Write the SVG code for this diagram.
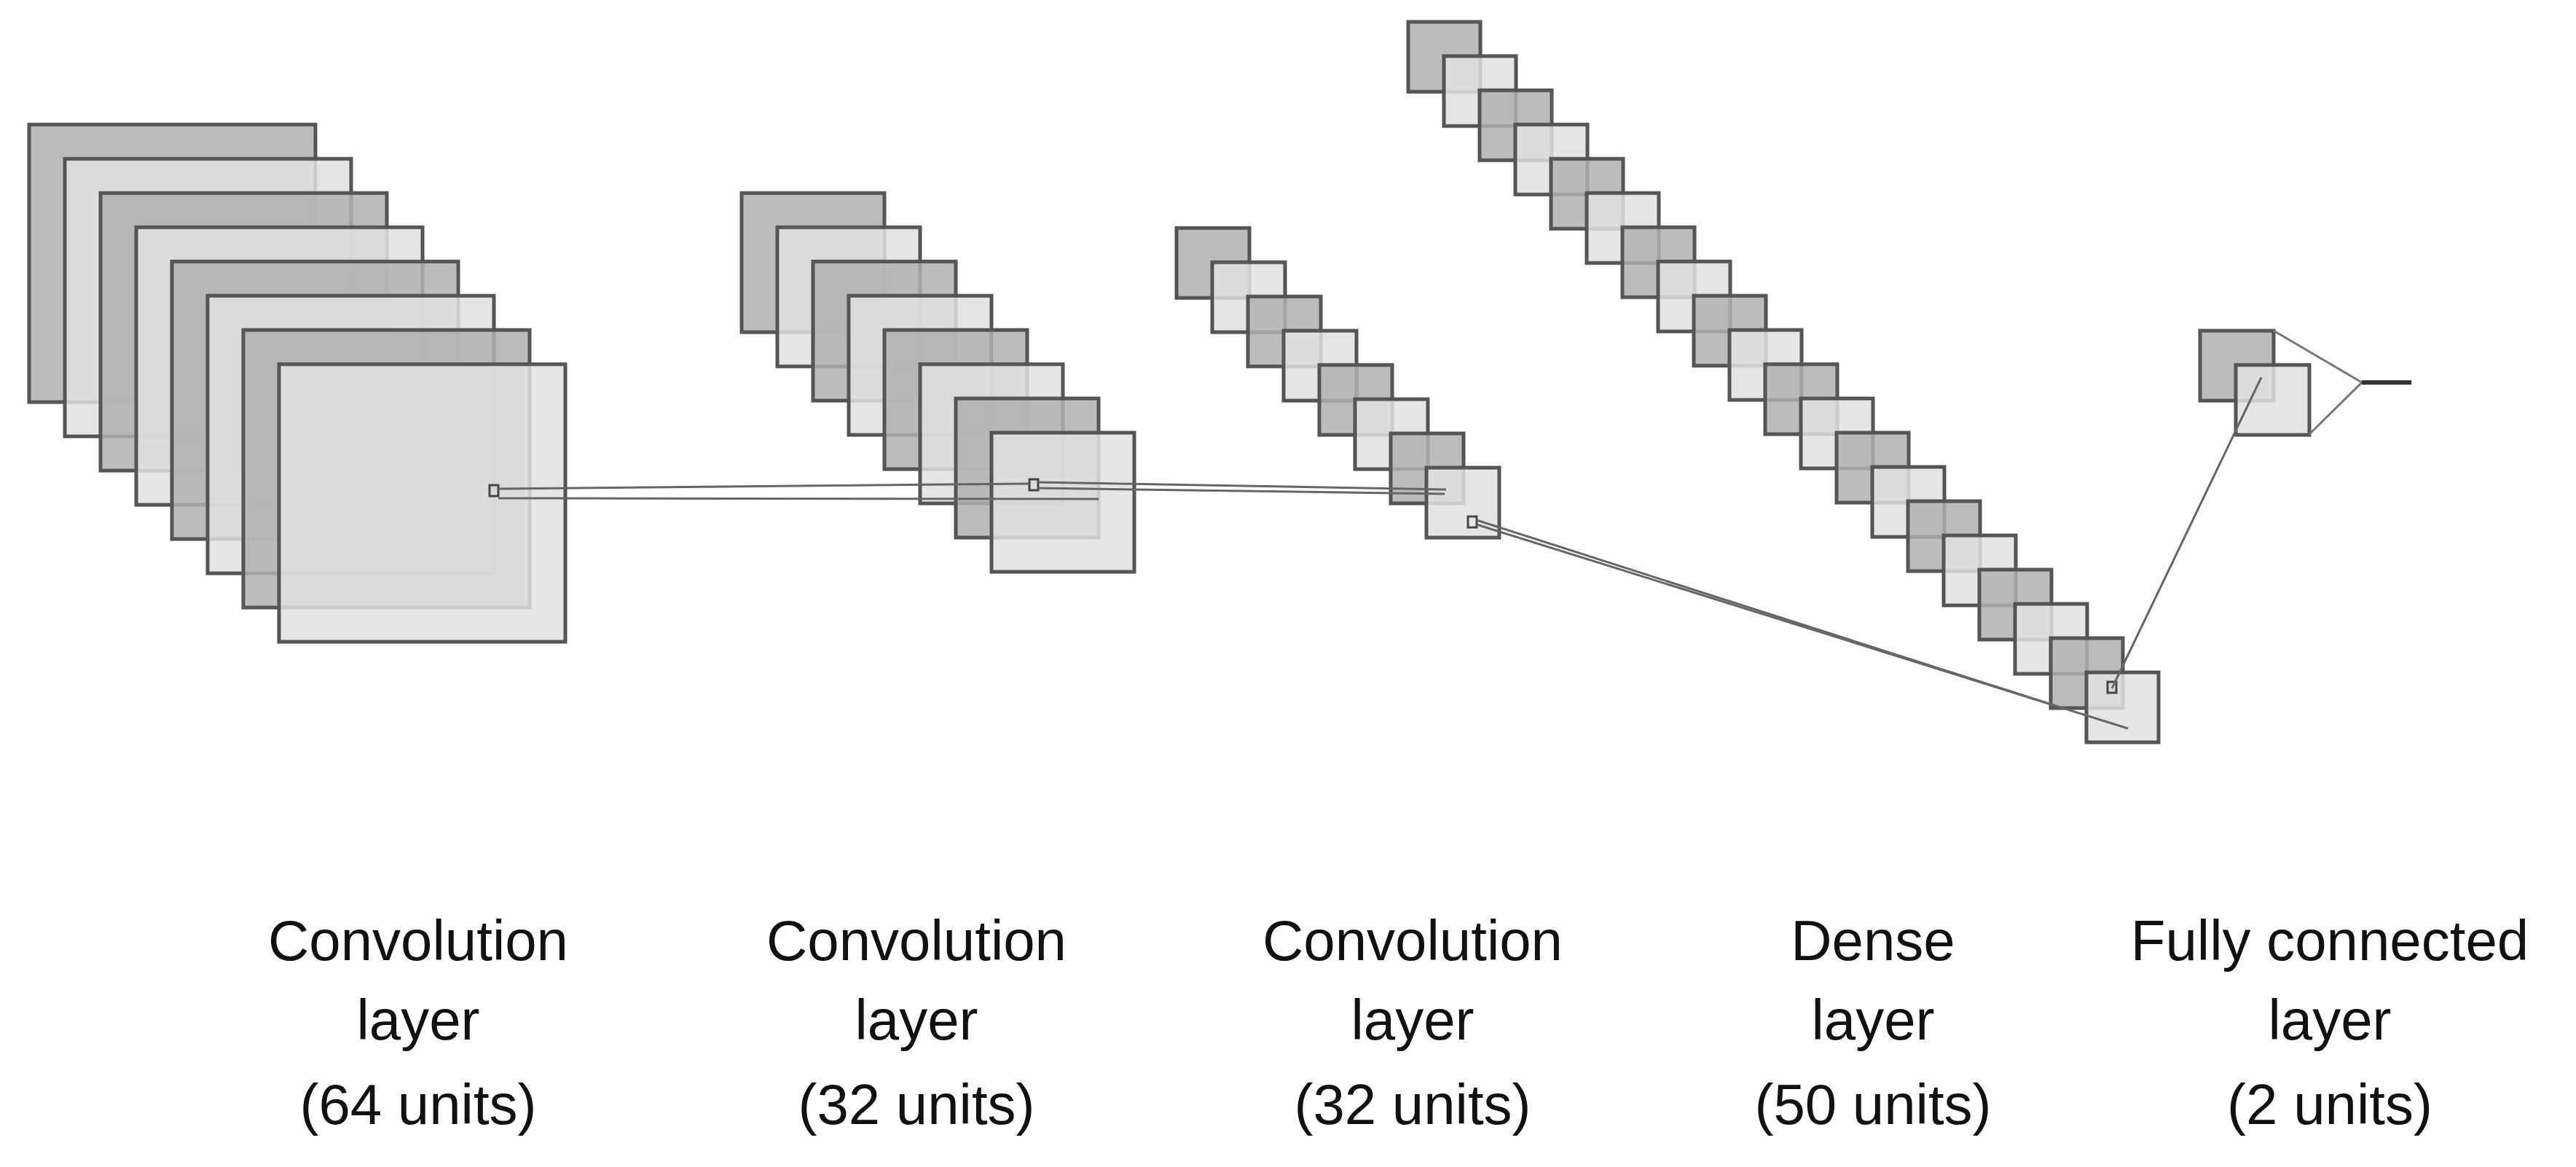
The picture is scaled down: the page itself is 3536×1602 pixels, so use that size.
<svg xmlns="http://www.w3.org/2000/svg" width="3536" height="1602" viewBox="0 0 3536 1602">
<style>
.d{fill:#b0b0b0;fill-opacity:0.85;stroke:#555;stroke-width:5}
.l{fill:#e2e2e2;fill-opacity:0.85;stroke:#555;stroke-width:5}
.c{stroke:#666;stroke-width:3;fill:none}
.s{fill:none;stroke:#444;stroke-width:3}
text{font-family:"Liberation Sans",Arial,sans-serif;font-size:78px;fill:#111;text-anchor:middle}
</style>
<g id="layer1">
<rect class="d" x="40" y="171" width="393" height="381"/>
<rect class="l" x="89" y="218" width="393" height="381"/>
<rect class="d" x="138" y="265" width="393" height="381"/>
<rect class="l" x="187" y="312" width="393" height="381"/>
<rect class="d" x="236" y="359" width="393" height="381"/>
<rect class="l" x="285" y="406" width="393" height="381"/>
<rect class="d" x="334" y="453" width="393" height="381"/>
<rect class="l" x="383" y="500" width="393" height="381"/>
</g>
<g id="layer2">
<rect class="d" x="1018" y="265" width="196" height="191"/>
<rect class="l" x="1067" y="312" width="196" height="191"/>
<rect class="d" x="1116" y="359" width="196" height="191"/>
<rect class="l" x="1165" y="406" width="196" height="191"/>
<rect class="d" x="1214" y="453" width="196" height="191"/>
<rect class="l" x="1263" y="500" width="196" height="191"/>
<rect class="d" x="1312" y="547" width="196" height="191"/>
<rect class="l" x="1361" y="594" width="196" height="191"/>
</g>
<g id="layer3">
<rect class="d" x="1615" y="313" width="100" height="96"/>
<rect class="l" x="1664" y="360" width="100" height="96"/>
<rect class="d" x="1713" y="407" width="100" height="96"/>
<rect class="l" x="1762" y="454" width="100" height="96"/>
<rect class="d" x="1811" y="501" width="100" height="96"/>
<rect class="l" x="1860" y="548" width="100" height="96"/>
<rect class="d" x="1909" y="595" width="100" height="96"/>
<rect class="l" x="1958" y="642" width="100" height="96"/>
</g>
<g id="layer4">
<rect class="d" x="1933" y="30" width="99" height="96"/>
<rect class="l" x="1982" y="77" width="99" height="96"/>
<rect class="d" x="2031" y="124" width="99" height="96"/>
<rect class="l" x="2080" y="171" width="99" height="96"/>
<rect class="d" x="2129" y="218" width="99" height="96"/>
<rect class="l" x="2178" y="265" width="99" height="96"/>
<rect class="d" x="2227" y="312" width="99" height="96"/>
<rect class="l" x="2276" y="359" width="99" height="96"/>
<rect class="d" x="2325" y="406" width="99" height="96"/>
<rect class="l" x="2374" y="453" width="99" height="96"/>
<rect class="d" x="2423" y="500" width="99" height="96"/>
<rect class="l" x="2472" y="547" width="99" height="96"/>
<rect class="d" x="2521" y="594" width="99" height="96"/>
<rect class="l" x="2570" y="641" width="99" height="96"/>
<rect class="d" x="2619" y="688" width="99" height="96"/>
<rect class="l" x="2668" y="735" width="99" height="96"/>
<rect class="d" x="2717" y="782" width="99" height="96"/>
<rect class="l" x="2766" y="829" width="99" height="96"/>
<rect class="d" x="2815" y="876" width="99" height="96"/>
<rect class="l" x="2864" y="923" width="99" height="96"/>
</g>
<g id="layer5">
<rect class="d" x="3020" y="454" width="101" height="96"/>
<rect class="l" x="3069" y="501" width="101" height="96"/>
<polyline points="3121,454 3242,525 3170,596" fill="none" stroke="#777" stroke-width="3"/>
<line x1="3242" y1="525" x2="3310" y2="525" stroke="#333" stroke-width="6"/>
</g>
<g id="connectors">
<rect class="s" x="672" y="666" width="12" height="15"/>
<rect class="s" x="1413" y="658" width="12" height="15"/>
<rect class="s" x="2015" y="709" width="12" height="15"/>
<rect class="s" x="2893" y="936" width="12" height="15"/>
<line class="c" x1="684" y1="671" x2="1413" y2="664"/>
<line class="c" x1="684" y1="684" x2="1508" y2="685"/>
<line class="c" x1="1425" y1="662" x2="1985" y2="672"/>
<line class="c" x1="1425" y1="670" x2="1983" y2="678"/>
<line class="c" x1="2027" y1="714" x2="2822" y2="969"/>
<line class="c" x1="2027" y1="720" x2="2921" y2="1000"/>
<line class="c" x1="2899" y1="945" x2="3104" y2="518"/>
</g>
<g id="labels">
<text x="574" y="1318">Convolution</text><text x="574" y="1427">layer</text><text x="574" y="1543">(64 units)</text>
<text x="1258" y="1318">Convolution</text><text x="1258" y="1427">layer</text><text x="1258" y="1543">(32 units)</text>
<text x="1939" y="1318">Convolution</text><text x="1939" y="1427">layer</text><text x="1939" y="1543">(32 units)</text>
<text x="2571" y="1318">Dense</text><text x="2571" y="1427">layer</text><text x="2571" y="1543">(50 units)</text>
<text x="3198" y="1318">Fully connected</text><text x="3198" y="1427">layer</text><text x="3198" y="1543">(2 units)</text>
</g>
</svg>
